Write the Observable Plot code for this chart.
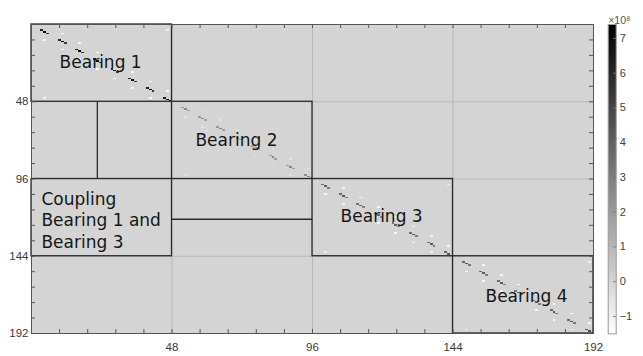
<!DOCTYPE html>
<html><head><meta charset="utf-8">
<script src="https://cdn.jsdelivr.net/npm/d3@7"></script>
<script src="https://cdn.jsdelivr.net/npm/@observablehq/plot@0.6"></script>
<style>
body{margin:0;background:#fff;}
#wrap{position:relative;width:643px;height:356px;overflow:hidden;}
#wrap svg{position:absolute;top:0;}
</style></head><body><div id="wrap"></div>
<script>
const N = 192;
const majorTicks = [48, 96, 144, 192];
const minorTicks = [9.6, 19.2, 28.8, 38.4, 48, 57.6, 67.2, 76.8, 86.4, 96, 105.6, 115.2, 124.8, 134.4, 144, 153.6, 163.2, 172.8, 182.4];
const colorTicks = [-1, 0, 1, 2, 3, 4, 5, 6, 7];
const colorDomain = [-1.5, 7.4]; // x10^8

// diagonal entries (index, value x10^8)
const diagIdx = [
  3,4,5, 9,10,11, 15,16,17, 21,22,23, 27,28,29, 33,34,35, 39,40,41, 45,46,47,
  51,52,53, 57,58,59, 63,64,65, 69,70,71, 75,76,77, 81,82,83, 87,88,89, 93,94,95,
  99,100,101, 105,106,107, 111,112,113, 117,118,119, 123,124,125, 129,130,131, 135,136,137, 141,142,143,
  147,148,149, 153,154,155, 159,160,161, 165,166,167, 171,172,173, 177,178,179, 183,184,185, 189,190,191
];
const diagVal = [
  6.3,7.0,5.6, 6.0,6.8,5.2, 6.2,7.0,5.5, 6.1,6.9,5.3, 6.0,6.8,5.2, 6.2,7.1,5.5, 6.1,6.9,5.4, 6.5,7.2,6.0,
  2.2,2.6,1.9, 2.0,2.5,1.7, 2.1,2.6,1.8, 2.0,2.4,1.7, 2.0,2.5,1.8, 2.1,2.6,1.9, 2.2,2.6,1.9, 2.4,2.8,2.1,
  3.4,3.9,3.0, 3.6,4.1,3.1, 3.3,3.8,2.8, 3.2,3.7,2.7, 3.4,4.0,3.0, 3.5,4.0,3.0, 3.7,4.2,3.1, 3.8,4.4,3.4,
  3.7,4.3,3.2, 3.7,4.2,3.1, 3.6,4.1,3.1, 3.4,3.9,2.9, 3.5,4.1,3.0, 3.7,4.3,3.1, 3.7,4.3,3.2, 4.1,4.7,3.6
];
// off-diagonal (negative) entries
const offRow = [
  5,9,11,15,17,21,23,27,29,33,35,39,41,45,3,45,
  53,57,59,63,65,69,71,75,77,81,83,87,89,93,51,93,
  101,105,107,111,113,117,119,123,125,129,131,135,137,141,99,141,
  149,153,155,159,161,165,167,171,173,177,179,183,185,189,147,189
];
const offCol = [
  10,4,16,10,22,16,28,22,34,28,40,34,46,40,46,4,
  58,52,64,58,70,64,76,70,82,76,88,82,94,88,94,52,
  106,100,112,106,118,112,124,118,130,124,136,130,142,136,142,100,
  154,148,160,154,166,160,172,166,178,172,184,178,190,184,190,148
];
const offVal = [
  -1.3,-1.3,-1.2,-1.3,-1.2,-1.2,-1.3,-1.3,-1.2,-1.3,-1.3,-1.2,-1.3,-1.2,-1.0,-1.0,
  -0.5,-0.5,-0.5,-0.5,-0.5,-0.5,-0.5,-0.5,-0.5,-0.5,-0.5,-0.5,-0.5,-0.5,-0.4,-0.4,
  -1.2,-1.2,-1.1,-1.2,-1.1,-1.1,-1.2,-1.2,-1.1,-1.2,-1.2,-1.1,-1.2,-1.1,-0.9,-0.9,
  -1.2,-1.2,-1.2,-1.2,-1.1,-1.1,-1.2,-1.2,-1.2,-1.2,-1.2,-1.2,-1.2,-1.1,-0.9,-0.9
];

// annotation boxes and lines (matrix index units)
const boxCol1 = [0, 48, 96, 144, 0];
const boxCol2 = [48, 96, 144, 192, 48];
const boxRow1 = [0, 48, 96, 144, 96];
const boxRow2 = [48, 96, 144, 192, 144];
const lineCol1 = [22.5, 48], lineCol2 = [22.5, 96];
const lineRow1 = [48, 121], lineRow2 = [96, 121];

const labelText = ["Bearing 1", "Bearing 2", "Bearing 3", "Bearing 4", "Coupling\nBearing 1 and\nBearing 3"];
const labelCol = [9.6, 56.0, 105.6, 155.1, 3.4];
const labelRow = [22.7, 71.1, 118.7, 168, 121.1];

// dense matrix for the raster
const values = new Array(N * N).fill(0);
diagIdx.forEach((i, k) => { values[i * N + i] = diagVal[k]; });
offRow.forEach((r, k) => { values[r * N + offCol[k]] = offVal[k]; });

const boxes = boxCol1.map((c, i) => ({c1: c, c2: boxCol2[i], r1: boxRow1[i], r2: boxRow2[i]}));
const lines = lineCol1.map((c, i) => ({c1: c, c2: lineCol2[i], r1: lineRow1[i], r2: lineRow2[i]}));
const labels = labelText.map((t, i) => ({t, c: labelCol[i], r: labelRow[i]}));

const color = {type: "linear", domain: colorDomain, range: ["#ffffff", "#000000"]};
const W = 643, H = 356, mL = 31, mR = 50, mT = 24, mB = 23;
const pw = W - mL - mR, ph = H - mT - mB;

const main = Plot.plot({
  width: W, height: H,
  marginLeft: mL, marginRight: mR, marginTop: mT, marginBottom: mB,
  x: {domain: [0, N]},
  y: {domain: [0, N], reverse: true},
  color,
  style: {fontFamily: "'Liberation Sans', Arial, sans-serif", fontSize: "11.5px", color: "#3a3a3a", background: "transparent"},
  marks: [
    Plot.raster(values, {width: N, height: N, x1: 0, x2: N, y1: 0, y2: N, imageRendering: "pixelated"}),
    Plot.ruleX([48, 96, 144], {stroke: "#b8b8b8", strokeWidth: 1}),
    Plot.ruleY([48, 96, 144], {stroke: "#b8b8b8", strokeWidth: 1}),
    Plot.rect(boxes, {x1: "c1", x2: "c2", y1: "r1", y2: "r2", fill: "none", stroke: "#2a2a2a", strokeWidth: 1.3}),
    Plot.link(lines, {x1: "c1", x2: "c2", y1: "r1", y2: "r2", stroke: "#2a2a2a", strokeWidth: 1.3}),
    Plot.text(labels, {x: "c", y: "r", text: "t", textAnchor: "start", lineAnchor: "middle", lineHeight: 1.26,
      fontFamily: "'DejaVu Sans', sans-serif", fontSize: 17, fill: "#161616"}),
    Plot.frame({stroke: "#555"}),
    Plot.tickX(minorTicks, {x: d => d, insetTop: ph - 4, stroke: "#555"}),
    Plot.tickX(minorTicks, {x: d => d, insetBottom: ph - 4, stroke: "#555"}),
    Plot.tickY(minorTicks, {y: d => d, insetRight: pw - 4, stroke: "#555"}),
    Plot.tickY(minorTicks, {y: d => d, insetLeft: pw - 4, stroke: "#555"}),
    Plot.axisX(majorTicks, {anchor: "bottom", tickSize: 0, tickPadding: 9, label: null}),
    Plot.axisY(majorTicks, {anchor: "left", tickSize: 0, tickPadding: 3, label: null})
  ]
});

const cbLeft = 600, cbW = 43;
const cb = Plot.plot({
  width: cbW, height: H,
  marginLeft: 7.7, marginRight: cbW - 15.7, marginTop: 24, marginBottom: 22.7,
  x: {domain: [0, 1], axis: null},
  y: {domain: colorDomain},
  color,
  style: {fontFamily: "'Liberation Sans', Arial, sans-serif", fontSize: "11px", color: "#444", background: "transparent", overflow: "visible"},
  marks: [
    Plot.raster({fill: (x, y) => y, x1: 0, x2: 1, y1: colorDomain[0], y2: colorDomain[1]}),
    Plot.frame({stroke: "#999"}),
    Plot.tickY(colorTicks, {y: d => d, insetLeft: 5.5, stroke: "#777"}),
    Plot.axisY(colorTicks, {anchor: "right", tickSize: 0, tickPadding: 3.5, label: null}),
    Plot.text(["×10⁸"], {frameAnchor: "top-left", dy: -8, textAnchor: "start", fontSize: 10.5, fill: "#555"})
  ]
});
cb.style.left = cbLeft + "px";
main.style.left = "0px";
const wrap = document.getElementById("wrap");
wrap.append(main, cb);
</script>
</body></html>
